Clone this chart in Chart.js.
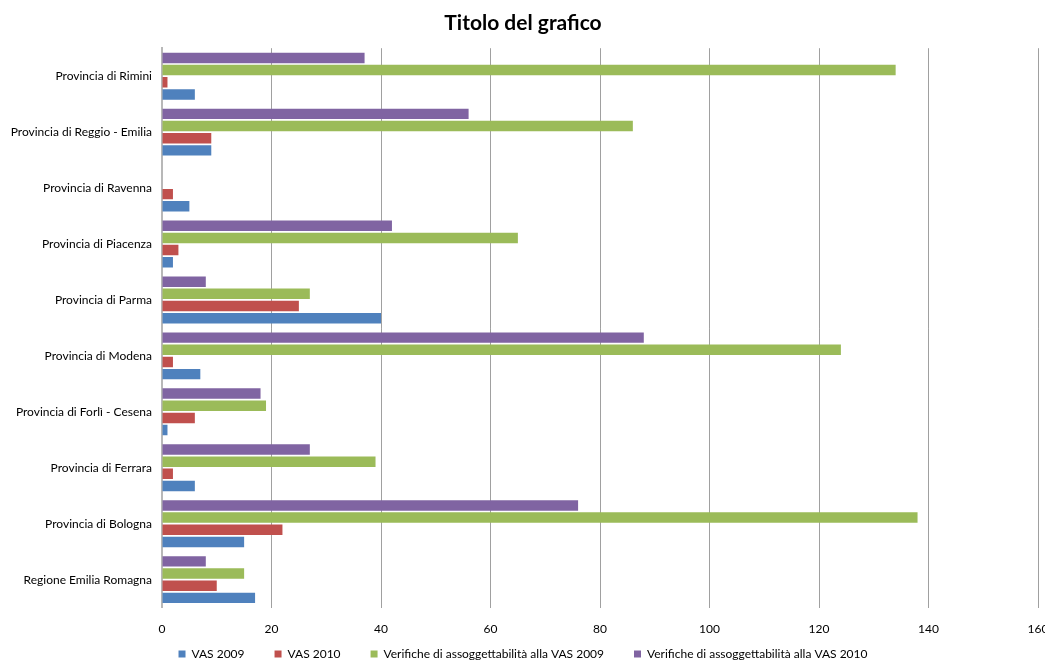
<!DOCTYPE html>
<html>
<head>
<meta charset="utf-8">
<script src="https://cdn.jsdelivr.net/npm/chart.js@4.4.1/dist/chart.umd.min.js"></script>
<style>
    html, body { margin: 0; padding: 0; background: #ffffff; overflow: hidden; }
    #wrap { position: relative; width: 1046px; height: 661px; }
</style>
</head>
<body>
<div id="wrap"><canvas id="vas-chart"></canvas></div>
<script>
const CATEGORIES = [
    "Regione Emilia Romagna",
    "Provincia di Bologna",
    "Provincia di Ferrara",
    "Provincia di Forlì - Cesena",
    "Provincia di Modena",
    "Provincia di Parma",
    "Provincia di Piacenza",
    "Provincia di Ravenna",
    "Provincia di Reggio - Emilia",
    "Provincia di Rimini",
];

const VAS_2009 = [17, 15, 6, 1, 7, 40, 2, 5, 9, 6];
const VAS_2010 = [10, 22, 2, 6, 2, 25, 3, 2, 9, 1];
const VERIFICHE_2009 = [15, 138, 39, 19, 124, 27, 65, 0, 86, 134];
const VERIFICHE_2010 = [8, 76, 27, 18, 88, 8, 42, 0, 56, 37];

const SERIES_LABELS = [
    "VAS 2009",
    "VAS 2010",
    "Verifiche di assoggettabilità alla VAS 2009",
    "Verifiche di assoggettabilità alla VAS 2010",
];
const SERIES_COLORS = ["#4f81bd", "#c0504d", "#9bbb59", "#8064a2"];

const FONT_FAMILY = "Lato, 'Open Sans', sans-serif";

const seriesValues = [VAS_2009, VAS_2010, VERIFICHE_2009, VERIFICHE_2010];

// Chart.js puts the first dataset at the top of each group; Excel puts it at the bottom.
const datasets = seriesValues
    .map((values, i) => ({
        label: SERIES_LABELS[i],
        data: values,
        backgroundColor: SERIES_COLORS[i],
        borderWidth: 0,
        categoryPercentage: 0.87,
        barPercentage: 0.86,
    }))
    .reverse();

// legend keeps wide item spacing but takes little room, and sits near the bottom edge
const LEGEND_SLOT = 11;
const legendTighten = {
    id: "legendTighten",
    beforeInit(chart) {
        const originalFit = chart.legend.fit;
        chart.legend.fit = function () {
            originalFit.call(this);
            this.fullHeight = this.height;
            this.height = LEGEND_SLOT;
        };
    },
    afterLayout(chart) {
        const legend = chart.legend;
        const shift = legend.fullHeight - 9 - LEGEND_SLOT;
        legend.top -= shift;
        legend.bottom = legend.top + legend.fullHeight;
    },
};

new Chart(document.getElementById("vas-chart"), {
    type: "bar",
    data: { labels: CATEGORIES, datasets },
    plugins: [legendTighten],
    options: {
        indexAxis: "y",
        responsive: true,
        maintainAspectRatio: false,
        animation: false,
        layout: { padding: 0 },
        plugins: {
            title: {
                display: true,
                text: "Titolo del grafico",
                color: "#000000",
                font: { family: FONT_FAMILY, size: 21, weight: "bold" },
                padding: { top: 11, bottom: 12 },
            },
            legend: {
                position: "bottom",
                reverse: true,
                labels: {
                    color: "#000000",
                    font: { family: FONT_FAMILY, size: 12 },
                    boxWidth: 7,
                    boxHeight: 7,
                    padding: 30,
                },
            },
            tooltip: { enabled: false },
        },
        scales: {
            x: {
                min: 0,
                max: 160,
                ticks: {
                    stepSize: 20,
                    color: "#000000",
                    font: { family: FONT_FAMILY, size: 12 },
                    padding: 14,
                },
                grid: { color: "#a0a0a0", drawTicks: false },
                border: { display: false },
                afterFit: (scale) => {
                    scale.paddingLeft = 0;
                    scale.paddingRight = 8;
                },
            },
            y: {
                reverse: true,
                ticks: {
                    color: "#000000",
                    font: { family: FONT_FAMILY, size: 12 },
                    padding: 10,
                },
                grid: { display: false, drawTicks: false },
                border: { display: true, color: "#b8b8b8", width: 2 },
                afterFit: (scale) => { scale.width = 162; },
            },
        },
    },
});
</script>
</body>
</html>
